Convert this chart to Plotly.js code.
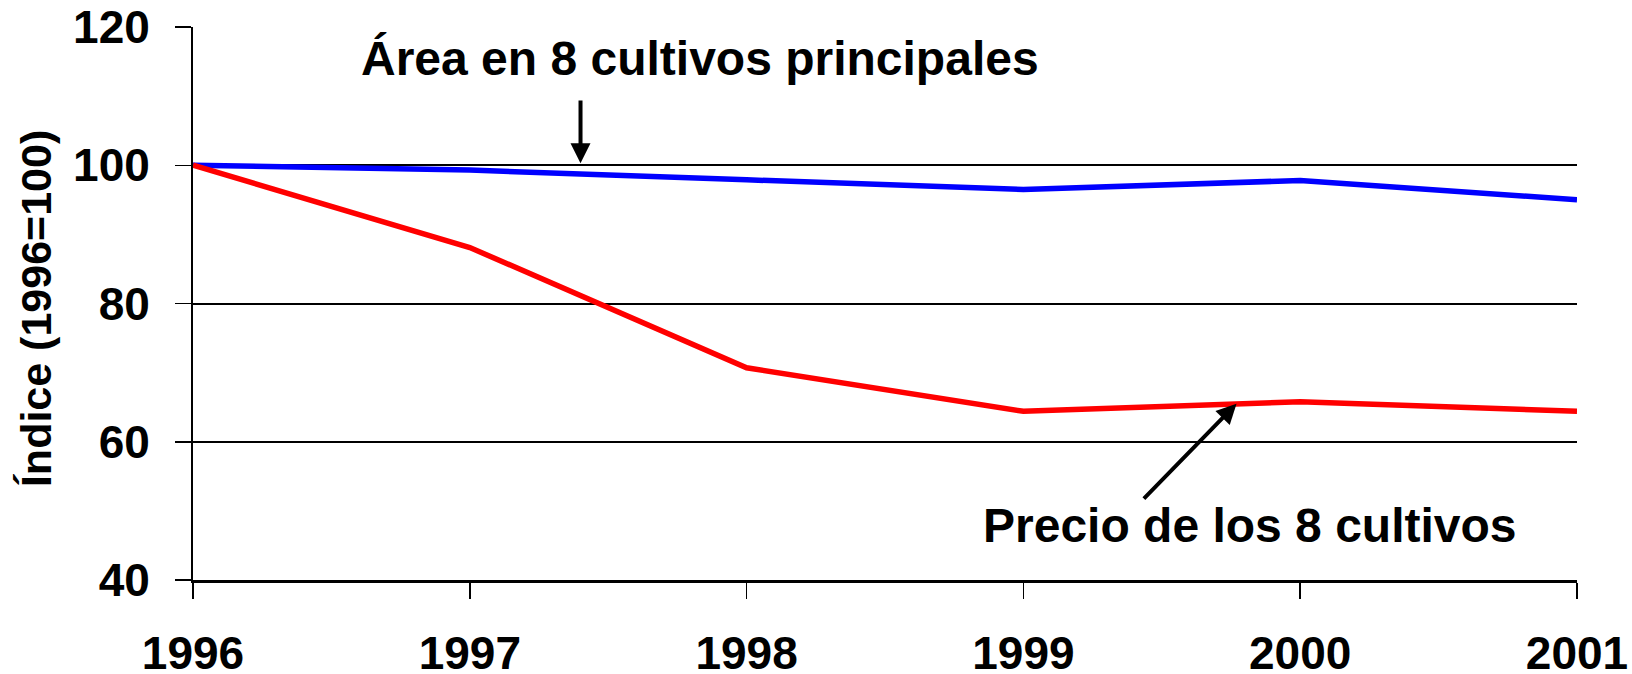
<!DOCTYPE html>
<html>
<head>
<meta charset="utf-8">
<script src="https://cdn.plot.ly/plotly-3.0.1.min.js"></script>
<style>
  html, body { margin: 0; padding: 0; background: #fff; }
  #chart { width: 1632px; height: 674px; }
</style>
</head>
<body>
<div id="chart"></div>
<script>
// Data
const years = [1996, 1997, 1998, 1999, 2000, 2001];
const areaIndex = [100, 99.3, 97.9, 96.5, 97.8, 95.0];
const priceIndex = [100, 88.1, 70.7, 64.4, 65.8, 64.4];
const yTicks = [40, 60, 80, 100, 120];
const xTickLabels = ['1996', '1997', '1998', '1999', '2000', '2001'];

const areaLabel = 'Área en 8 cultivos principales';
const priceLabel = 'Precio de los 8 cultivos';
const yTitle = 'Índice (1996=100)';

const FONT = '"Liberation Sans", Arial, sans-serif';

const traces = [
  {
    x: years, y: areaIndex, type: 'scatter', mode: 'lines',
    name: areaLabel,
    line: { color: '#0000FF', width: 5.5 },
    hoverinfo: 'x+y'
  },
  {
    x: years, y: priceIndex, type: 'scatter', mode: 'lines',
    name: priceLabel,
    line: { color: '#FF0000', width: 5.5 },
    hoverinfo: 'x+y'
  }
];

const layout = {
  width: 1632, height: 674,
  margin: { l: 193, r: 55, t: 27, b: 94, pad: 0 },
  paper_bgcolor: '#ffffff',
  plot_bgcolor: '#ffffff',
  showlegend: false,
  font: { family: FONT, color: '#000000' },
  xaxis: {
    range: [1996, 2001],
    tickvals: years,
    ticktext: xTickLabels,
    showgrid: false,
    zeroline: false,
    showline: true,
    linecolor: '#000000',
    linewidth: 2.5,
    ticks: 'outside',
    ticklen: 16,
    tickwidth: 1.5,
    tickcolor: '#000000',
    ticklabelstandoff: 15,
    tickfont: { family: FONT, size: 46, color: '#000000', weight: 'bold' }
  },
  yaxis: {
    range: [40, 120],
    tickvals: yTicks,
    showgrid: true,
    gridcolor: '#000000',
    gridwidth: 2,
    zeroline: false,
    showline: true,
    linecolor: '#000000',
    linewidth: 2,
    ticks: 'outside',
    ticklen: 16,
    tickwidth: 1.5,
    tickcolor: '#000000',
    ticklabelstandoff: 16,
    tickfont: { family: FONT, size: 46, color: '#000000', weight: 'bold' }
  },
  annotations: [
    {
      text: yTitle,
      xref: 'paper', yref: 'paper',
      x: -0.1134, y: 0.49,
      xanchor: 'center', yanchor: 'middle',
      textangle: -90,
      showarrow: false,
      font: { family: FONT, size: 43, color: '#000000', weight: 'bold' }
    },
    {
      text: areaLabel,
      xref: 'x', yref: 'y',
      x: 1997.83, y: 115.5,
      xanchor: 'center', yanchor: 'middle',
      showarrow: false,
      font: { family: FONT, size: 48, color: '#000000', weight: 'bold' }
    },
    {
      text: priceLabel,
      xref: 'x', yref: 'y',
      x: 1999.82, y: 47.9,
      xanchor: 'center', yanchor: 'middle',
      showarrow: false,
      font: { family: FONT, size: 48, color: '#000000', weight: 'bold' }
    },
    {
      text: '',
      xref: 'x', yref: 'y', axref: 'x', ayref: 'y',
      x: 1997.40, y: 100.3,
      ax: 1997.40, ay: 109.6,
      showarrow: true,
      arrowhead: 2, arrowsize: 1, arrowwidth: 4,
      arrowcolor: '#000000', standoff: 0
    },
    {
      text: '',
      xref: 'x', yref: 'y', axref: 'x', ayref: 'y',
      x: 1999.77, y: 65.5,
      ax: 1999.43, ay: 51.55,
      showarrow: true,
      arrowhead: 2, arrowsize: 1, arrowwidth: 4,
      arrowcolor: '#000000', standoff: 0
    }
  ]
};

Plotly.newPlot('chart', traces, layout, { displayModeBar: false, staticPlot: true });
</script>
</body>
</html>
